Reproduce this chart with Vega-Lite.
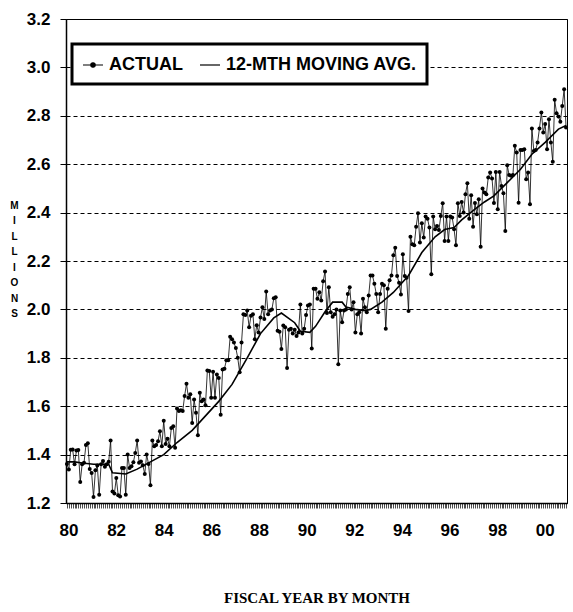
{
"$schema":"https://vega.github.io/schema/vega-lite/v6.json",
"width":501,"height":484,"autosize":"none",
"padding":{"left":66,"top":19,"right":6,"bottom":109},
"config":{"font":"Liberation Sans","view":{"stroke":"black","strokeWidth":1},"axis":{"labelColor":"black","tickColor":"black","domainColor":"black"}},
"datasets":{
"act":[
{"m":0,"v":1.361,"s":"A"},{"m":1,"v":1.338,"s":"A"},{"m":2,"v":1.42,"s":"A"},{"m":3,"v":1.421,"s":"A"},{"m":4,"v":1.36,"s":"A"},{"m":5,"v":1.417,"s":"A"},{"m":6,"v":1.419,"s":"A"},{"m":7,"v":1.287,"s":"A"},{"m":8,"v":1.36,"s":"A"},{"m":9,"v":1.366,"s":"A"},
{"m":10,"v":1.44,"s":"A"},{"m":11,"v":1.447,"s":"A"},{"m":12,"v":1.34,"s":"A"},{"m":13,"v":1.324,"s":"A"},{"m":14,"v":1.225,"s":"A"},{"m":15,"v":1.335,"s":"A"},{"m":16,"v":1.355,"s":"A"},{"m":17,"v":1.234,"s":"A"},{"m":18,"v":1.36,"s":"A"},{"m":19,"v":1.374,"s":"A"},
{"m":20,"v":1.35,"s":"A"},{"m":21,"v":1.36,"s":"A"},{"m":22,"v":1.37,"s":"A"},{"m":23,"v":1.458,"s":"A"},{"m":24,"v":1.248,"s":"A"},{"m":25,"v":1.239,"s":"A"},{"m":26,"v":1.303,"s":"A"},{"m":27,"v":1.232,"s":"A"},{"m":28,"v":1.227,"s":"A"},{"m":29,"v":1.345,"s":"A"},
{"m":30,"v":1.345,"s":"A"},{"m":31,"v":1.234,"s":"A"},{"m":32,"v":1.4,"s":"A"},{"m":33,"v":1.345,"s":"A"},{"m":34,"v":1.352,"s":"A"},{"m":35,"v":1.368,"s":"A"},{"m":36,"v":1.407,"s":"A"},{"m":37,"v":1.458,"s":"A"},{"m":38,"v":1.366,"s":"A"},{"m":39,"v":1.372,"s":"A"},
{"m":40,"v":1.356,"s":"A"},{"m":41,"v":1.32,"s":"A"},{"m":42,"v":1.4,"s":"A"},{"m":43,"v":1.361,"s":"A"},{"m":44,"v":1.273,"s":"A"},{"m":45,"v":1.458,"s":"A"},{"m":46,"v":1.435,"s":"A"},{"m":47,"v":1.44,"s":"A"},{"m":48,"v":1.455,"s":"A"},{"m":49,"v":1.497,"s":"A"},
{"m":50,"v":1.435,"s":"A"},{"m":51,"v":1.54,"s":"A"},{"m":52,"v":1.444,"s":"A"},{"m":53,"v":1.466,"s":"A"},{"m":54,"v":1.435,"s":"A"},{"m":55,"v":1.51,"s":"A"},{"m":56,"v":1.517,"s":"A"},{"m":57,"v":1.428,"s":"A"},{"m":58,"v":1.59,"s":"A"},{"m":59,"v":1.58,"s":"A"},
{"m":60,"v":1.583,"s":"A"},{"m":61,"v":1.58,"s":"A"},{"m":62,"v":1.642,"s":"A"},{"m":63,"v":1.693,"s":"A"},{"m":64,"v":1.635,"s":"A"},{"m":65,"v":1.649,"s":"A"},{"m":66,"v":1.531,"s":"A"},{"m":67,"v":1.628,"s":"A"},{"m":68,"v":1.573,"s":"A"},{"m":69,"v":1.48,"s":"A"},
{"m":70,"v":1.656,"s":"A"},{"m":71,"v":1.62,"s":"A"},{"m":72,"v":1.628,"s":"A"},{"m":73,"v":1.604,"s":"A"},{"m":74,"v":1.748,"s":"A"},{"m":75,"v":1.745,"s":"A"},{"m":76,"v":1.635,"s":"A"},{"m":77,"v":1.742,"s":"A"},{"m":78,"v":1.635,"s":"A"},{"m":79,"v":1.731,"s":"A"},
{"m":80,"v":1.717,"s":"A"},{"m":81,"v":1.565,"s":"A"},{"m":82,"v":1.752,"s":"A"},{"m":83,"v":1.755,"s":"A"},{"m":84,"v":1.79,"s":"A"},{"m":85,"v":1.79,"s":"A"},{"m":86,"v":1.887,"s":"A"},{"m":87,"v":1.877,"s":"A"},{"m":88,"v":1.863,"s":"A"},{"m":89,"v":1.84,"s":"A"},
{"m":90,"v":1.8,"s":"A"},{"m":91,"v":1.74,"s":"A"},{"m":92,"v":1.863,"s":"A"},{"m":93,"v":1.98,"s":"A"},{"m":94,"v":1.977,"s":"A"},{"m":95,"v":1.995,"s":"A"},{"m":96,"v":1.926,"s":"A"},{"m":97,"v":1.974,"s":"A"},{"m":98,"v":1.98,"s":"A"},{"m":99,"v":1.877,"s":"A"},
{"m":100,"v":1.935,"s":"A"},{"m":101,"v":1.905,"s":"A"},{"m":102,"v":1.967,"s":"A"},{"m":103,"v":2.009,"s":"A"},{"m":104,"v":1.96,"s":"A"},{"m":105,"v":2.074,"s":"A"},{"m":106,"v":1.98,"s":"A"},{"m":107,"v":1.995,"s":"A"},{"m":108,"v":2.0,"s":"A"},{"m":109,"v":2.046,"s":"A"},
{"m":110,"v":2.05,"s":"A"},{"m":111,"v":1.912,"s":"A"},{"m":112,"v":1.908,"s":"A"},{"m":113,"v":1.836,"s":"A"},{"m":114,"v":1.933,"s":"A"},{"m":115,"v":1.926,"s":"A"},{"m":116,"v":1.758,"s":"A"},{"m":117,"v":1.916,"s":"A"},{"m":118,"v":1.92,"s":"A"},{"m":119,"v":1.9,"s":"A"},
{"m":120,"v":1.916,"s":"A"},{"m":121,"v":1.89,"s":"A"},{"m":122,"v":1.905,"s":"A"},{"m":123,"v":2.02,"s":"A"},{"m":124,"v":1.9,"s":"A"},{"m":125,"v":1.92,"s":"A"},{"m":126,"v":1.977,"s":"A"},{"m":127,"v":2.016,"s":"A"},{"m":128,"v":2.02,"s":"A"},{"m":129,"v":1.838,"s":"A"},
{"m":130,"v":2.085,"s":"A"},{"m":131,"v":2.085,"s":"A"},{"m":132,"v":2.044,"s":"A"},{"m":133,"v":2.071,"s":"A"},{"m":134,"v":2.037,"s":"A"},{"m":135,"v":2.116,"s":"A"},{"m":136,"v":2.157,"s":"A"},{"m":137,"v":1.985,"s":"A"},{"m":138,"v":2.092,"s":"A"},{"m":139,"v":1.988,"s":"A"},
{"m":140,"v":1.97,"s":"A"},{"m":141,"v":1.98,"s":"A"},{"m":142,"v":2.0,"s":"A"},{"m":143,"v":1.773,"s":"A"},{"m":144,"v":1.995,"s":"A"},{"m":145,"v":1.947,"s":"A"},{"m":146,"v":1.995,"s":"A"},{"m":147,"v":2.0,"s":"A"},{"m":148,"v":2.064,"s":"A"},{"m":149,"v":2.092,"s":"A"},
{"m":150,"v":2.0,"s":"A"},{"m":151,"v":2.03,"s":"A"},{"m":152,"v":1.905,"s":"A"},{"m":153,"v":1.98,"s":"A"},{"m":154,"v":1.988,"s":"A"},{"m":155,"v":1.9,"s":"A"},{"m":156,"v":2.044,"s":"A"},{"m":157,"v":2.009,"s":"A"},{"m":158,"v":1.988,"s":"A"},{"m":159,"v":2.057,"s":"A"},
{"m":160,"v":2.14,"s":"A"},{"m":161,"v":2.14,"s":"A"},{"m":162,"v":2.106,"s":"A"},{"m":163,"v":2.064,"s":"A"},{"m":164,"v":1.988,"s":"A"},{"m":165,"v":2.064,"s":"A"},{"m":166,"v":2.106,"s":"A"},{"m":167,"v":2.1,"s":"A"},{"m":168,"v":1.92,"s":"A"},{"m":169,"v":2.085,"s":"A"},
{"m":170,"v":2.12,"s":"A"},{"m":171,"v":2.14,"s":"A"},{"m":172,"v":2.224,"s":"A"},{"m":173,"v":2.255,"s":"A"},{"m":174,"v":2.138,"s":"A"},{"m":175,"v":2.11,"s":"A"},{"m":176,"v":2.062,"s":"A"},{"m":177,"v":2.228,"s":"A"},{"m":178,"v":2.138,"s":"A"},{"m":179,"v":2.131,"s":"A"},
{"m":180,"v":1.993,"s":"A"},{"m":181,"v":2.3,"s":"A"},{"m":182,"v":2.269,"s":"A"},{"m":183,"v":2.265,"s":"A"},{"m":184,"v":2.342,"s":"A"},{"m":185,"v":2.397,"s":"A"},{"m":186,"v":2.276,"s":"A"},{"m":187,"v":2.356,"s":"A"},{"m":188,"v":2.297,"s":"A"},{"m":189,"v":2.384,"s":"A"},
{"m":190,"v":2.375,"s":"A"},{"m":191,"v":2.338,"s":"A"},{"m":192,"v":2.145,"s":"A"},{"m":193,"v":2.384,"s":"A"},{"m":194,"v":2.331,"s":"A"},{"m":195,"v":2.345,"s":"A"},{"m":196,"v":2.328,"s":"A"},{"m":197,"v":2.386,"s":"A"},{"m":198,"v":2.439,"s":"A"},{"m":199,"v":2.283,"s":"A"},
{"m":200,"v":2.384,"s":"A"},{"m":201,"v":2.283,"s":"A"},{"m":202,"v":2.384,"s":"A"},{"m":203,"v":2.38,"s":"A"},{"m":204,"v":2.331,"s":"A"},{"m":205,"v":2.265,"s":"A"},{"m":206,"v":2.439,"s":"A"},{"m":207,"v":2.386,"s":"A"},{"m":208,"v":2.444,"s":"A"},{"m":209,"v":2.4,"s":"A"},
{"m":210,"v":2.476,"s":"A"},{"m":211,"v":2.521,"s":"A"},{"m":212,"v":2.375,"s":"A"},{"m":213,"v":2.472,"s":"A"},{"m":214,"v":2.342,"s":"A"},{"m":215,"v":2.44,"s":"A"},{"m":216,"v":2.393,"s":"A"},{"m":217,"v":2.455,"s":"A"},{"m":218,"v":2.259,"s":"A"},{"m":219,"v":2.5,"s":"A"},
{"m":220,"v":2.483,"s":"A"},{"m":221,"v":2.476,"s":"A"},{"m":222,"v":2.545,"s":"A"},{"m":223,"v":2.566,"s":"A"},{"m":224,"v":2.541,"s":"A"},{"m":225,"v":2.44,"s":"A"},{"m":226,"v":2.568,"s":"A"},{"m":227,"v":2.414,"s":"A"},{"m":228,"v":2.568,"s":"A"},{"m":229,"v":2.51,"s":"A"},
{"m":230,"v":2.48,"s":"A"},{"m":231,"v":2.324,"s":"A"},{"m":232,"v":2.596,"s":"A"},{"m":233,"v":2.555,"s":"A"},{"m":234,"v":2.552,"s":"A"},{"m":235,"v":2.555,"s":"A"},{"m":236,"v":2.676,"s":"A"},{"m":237,"v":2.648,"s":"A"},{"m":238,"v":2.441,"s":"A"},{"m":239,"v":2.659,"s":"A"},
{"m":240,"v":2.659,"s":"A"},{"m":241,"v":2.662,"s":"A"},{"m":242,"v":2.538,"s":"A"},{"m":243,"v":2.566,"s":"A"},{"m":244,"v":2.435,"s":"A"},{"m":245,"v":2.748,"s":"A"},{"m":246,"v":2.655,"s":"A"},{"m":247,"v":2.659,"s":"A"},{"m":248,"v":2.69,"s":"A"},{"m":249,"v":2.748,"s":"A"},
{"m":250,"v":2.814,"s":"A"},{"m":251,"v":2.731,"s":"A"},{"m":252,"v":2.766,"s":"A"},{"m":253,"v":2.662,"s":"A"},{"m":254,"v":2.786,"s":"A"},{"m":255,"v":2.69,"s":"A"},{"m":256,"v":2.61,"s":"A"},{"m":257,"v":2.866,"s":"A"},{"m":258,"v":2.811,"s":"A"},{"m":259,"v":2.797,"s":"A"},
{"m":260,"v":2.775,"s":"A"},{"m":261,"v":2.841,"s":"A"},{"m":262,"v":2.91,"s":"A"},{"m":263,"v":2.752,"s":"A"}
],
"ma":[
{"m":0,"v":1.37,"s":"M"},{"m":4,"v":1.37,"s":"M"},{"m":8,"v":1.365,"s":"M"},{"m":14,"v":1.36,"s":"M"},{"m":22,"v":1.36,"s":"M"},{"m":24,"v":1.325,"s":"M"},{"m":31,"v":1.32,"s":"M"},{"m":37,"v":1.34,"s":"M"},{"m":44,"v":1.37,"s":"M"},{"m":51,"v":1.4,"s":"M"},
{"m":58,"v":1.45,"s":"M"},{"m":66,"v":1.5,"s":"M"},{"m":73,"v":1.56,"s":"M"},{"m":80,"v":1.62,"s":"M"},{"m":87,"v":1.69,"s":"M"},{"m":95,"v":1.8,"s":"M"},{"m":102,"v":1.9,"s":"M"},{"m":109,"v":1.965,"s":"M"},{"m":113,"v":1.985,"s":"M"},{"m":120,"v":1.945,"s":"M"},
{"m":123,"v":1.91,"s":"M"},{"m":128,"v":1.905,"s":"M"},{"m":131,"v":1.93,"s":"M"},{"m":136,"v":1.99,"s":"M"},{"m":140,"v":2.03,"s":"M"},{"m":145,"v":2.03,"s":"M"},{"m":147,"v":2.01,"s":"M"},{"m":152,"v":2.0,"s":"M"},{"m":157,"v":1.995,"s":"M"},{"m":160,"v":2.0,"s":"M"},
{"m":166,"v":2.03,"s":"M"},{"m":172,"v":2.07,"s":"M"},{"m":180,"v":2.14,"s":"M"},{"m":187,"v":2.235,"s":"M"},{"m":194,"v":2.3,"s":"M"},{"m":199,"v":2.33,"s":"M"},{"m":204,"v":2.338,"s":"M"},{"m":208,"v":2.37,"s":"M"},{"m":215,"v":2.414,"s":"M"},{"m":220,"v":2.444,"s":"M"},
{"m":225,"v":2.469,"s":"M"},{"m":232,"v":2.524,"s":"M"},{"m":239,"v":2.579,"s":"M"},{"m":245,"v":2.641,"s":"M"},{"m":252,"v":2.69,"s":"M"},{"m":259,"v":2.745,"s":"M"},{"m":263,"v":2.76,"s":"M"}
]},
"layer":[
{"data":{"name":"act"},"mark":{"type":"line","strokeWidth":0.8},
"encoding":{
"x":{"field":"m","type":"quantitative","scale":{"domain":[-0.5,263.5],"nice":false,"zero":false},
"axis":{"orient":"bottom","tickCount":264,"labels":false,"grid":false,"title":null,"tickSize":5,"tickWidth":0.7,"domainWidth":1.5}},
"y":{"field":"v","type":"quantitative","scale":{"domain":[1.2,3.2],"nice":false,"zero":false},
"axis":{"values":[1.2,1.4,1.6,1.8,2.0,2.2,2.4,2.6,2.8,3.0,3.2],"format":".1f","labelFontSize":17,"labelFontWeight":"bold","labelPadding":10,"tickSize":6,"domainWidth":1.5,"grid":true,"gridColor":"black","gridDash":[4,3],"gridWidth":1,"gridOpacity":1,
"title":["M","I","L","L","I","O","N","S"],"titleAngle":0,"titleFontSize":10,"titleFontWeight":"bold","titleLineHeight":15.5,"titleX":-52,"titleY":181,"titleAlign":"center","titleBaseline":"top","titleColor":"black"}},
"stroke":{"field":"s","type":"nominal","scale":{"domain":["A","M"],"range":["black","black"]},
"legend":{"title":null,"orient":"none","legendX":6,"legendY":25,"direction":"horizontal","labelExpr":"datum.value == 'A' ? 'ACTUAL' : '12-MTH MOVING AVG.'","labelLimit":400,"labelFontSize":18,"labelFontWeight":"bold","labelColor":"black","fillColor":"white","strokeColor":"black","padding":10,"symbolSize":400,"symbolStrokeWidth":1.2,"columnPadding":14,"labelOffset":5,
"encode":{"legend":{"update":{"strokeWidth":{"value":3}}},"symbols":{"update":{"shape":{"signal":"datum.value == 'A' ? 'M-1,0H1M0.22,0A0.22,0.22,0,1,1,-0.22,0A0.22,0.22,0,1,1,0.22,0Z' : 'M-1,0H1'"},"fill":{"value":"black"},"stroke":{"value":"black"}}}}}}
}},
{"data":{"name":"act"},"mark":{"type":"point","filled":true,"size":16,"color":"black","opacity":1},
"encoding":{"x":{"field":"m","type":"quantitative","axis":null},"y":{"field":"v","type":"quantitative"}}},
{"data":{"name":"ma"},"mark":{"type":"line","strokeWidth":1.6},
"encoding":{
"x":{"field":"m","type":"quantitative",
"axis":{"orient":"bottom","values":[0.8,25.9,51,76.1,101.2,126.3,151.4,176.5,201.6,226.7,251.8],"labelExpr":"['80','82','84','86','88','90','92','94','96','98','00'][round((datum.value-0.8)/25.1)]","ticks":false,"domain":false,"grid":false,"labelFontSize":17,"labelFontWeight":"bold","labelPadding":19,"labelOverlap":false,"labelBound":false,"labelFlush":false,
"title":"FISCAL YEAR BY MONTH","titleFont":"Liberation Serif","titleFontSize":15,"titleFontWeight":"bold","titlePadding":52,"titleColor":"black"}},
"y":{"field":"v","type":"quantitative"},
"stroke":{"field":"s","type":"nominal"}}}
],
"resolve":{"axis":{"x":"independent"}}
}
